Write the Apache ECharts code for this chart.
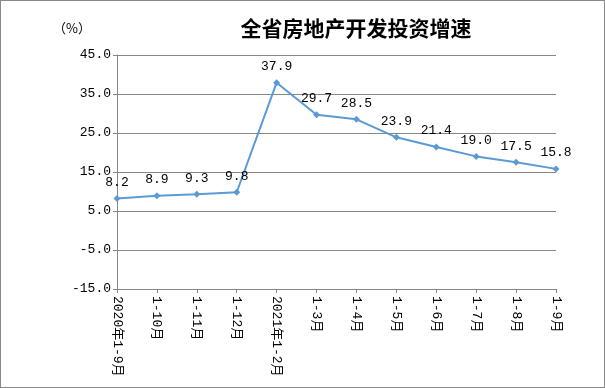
<!DOCTYPE html>
<html><head><meta charset="utf-8">
<script src="https://cdn.jsdelivr.net/npm/echarts@6/dist/echarts.min.js"></script>
<style>
html,body{margin:0;padding:0;background:#fff;}
#c{width:605px;height:388px;box-sizing:border-box;border:1px solid #898989;}
</style></head>
<body><div id="c"></div>
<script>
const titleText = '全省房地产开发投资增速';
const unitText = '（%）';
const categories = ['2020年1-9月','1-10月','1-11月','1-12月','2021年1-2月','1-3月','1-4月','1-5月','1-6月','1-7月','1-8月','1-9月'];
const values = [8.2, 8.9, 9.3, 9.8, 37.9, 29.7, 28.5, 23.9, 21.4, 19.0, 17.5, 15.8];
const yMin = -15, yMax = 45, yStep = 10;

const chart = echarts.init(document.getElementById('c'), null, {renderer:'canvas'});
const mono = '"Liberation Mono","Noto Sans CJK SC",monospace';
chart.setOption({
  animation:false,
  title:{text:titleText,left:350,top:12,textAlign:'center',
    textStyle:{fontFamily:'"Noto Sans CJK SC"',fontSize:21,fontWeight:'bold',color:'#000'}},
  graphic:[{type:'text',left:52,top:21,style:{text:unitText,fontFamily:'"Noto Sans CJK SC"',fontSize:13,fill:'#000'}}],
  grid:{left:116,right:48,top:54,bottom:98,containLabel:false},
  xAxis:{type:'category',data:categories,boundaryGap:false,
    axisLine:{onZero:false,lineStyle:{color:'#868686',width:1}},
    axisTick:{show:true,alignWithLabel:true,length:4,lineStyle:{color:'#868686'}},
    axisLabel:{rotate:-90,interval:0,margin:7,color:'#000',fontFamily:mono,fontSize:13}},
  yAxis:{type:'value',min:yMin,max:yMax,interval:yStep,
    axisLine:{show:true,lineStyle:{color:'#868686'}},
    axisTick:{show:true,length:4,lineStyle:{color:'#868686'}},
    splitLine:{lineStyle:{color:'#868686',width:1}},
    axisLabel:{formatter:v=>v.toFixed(1),color:'#000',fontFamily:mono,fontSize:13,margin:6}},
  series:[{type:'line',data:values,symbol:'diamond',symbolSize:7,
    lineStyle:{color:'#5B9BD5',width:2},itemStyle:{color:'#5B9BD5'},
    label:{show:true,position:'top',distance:6,formatter:p=>p.value.toFixed(1),
      color:'#000',fontFamily:mono,fontSize:13}}]
});
</script></body></html>
